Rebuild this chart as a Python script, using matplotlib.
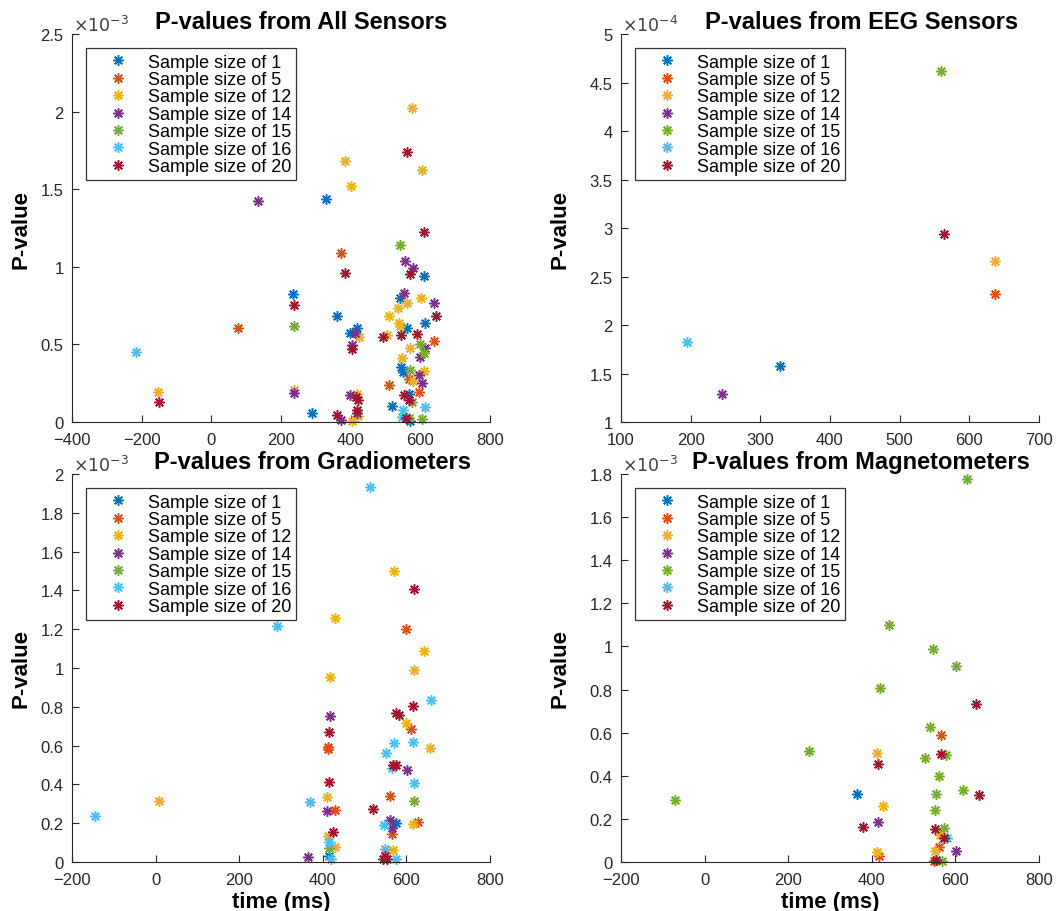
import matplotlib
matplotlib.use('Agg')
import matplotlib.pyplot as plt
from matplotlib.ticker import FuncFormatter

plt.rcParams['font.family'] = ['Liberation Sans', 'DejaVu Sans']

sizes = [1, 5, 12, 14, 15, 16, 20]
colors = ['#0072BD', '#D95319', '#EDB120', '#7E2F8E', '#77AC30', '#4DBEEE', '#A2142F']

# ---- All sensors (p in units of 1e-3) ----
all_t = {
    1: [329, 611, 234, 541, 361, 614, 562, 419, 398, 545, 551, 567, 519, 290, 570],
    5: [76, 373, 638, 567, 510, 596],
    12: [-154, 576, 383, 605, 400, 602, 562, 536, 510, 538, 542, 425, 505, 570, 547, 611, 578, 237, 417, 422, 403],
    14: [133, 557, 580, 553, 639, 413, 405, 613, 599, 595, 604, 237, 398, 419, 373],
    15: [541, 237, 598, 610, 570, 575, 606, 568],
    16: [-216, 613, 551, 547],
    20: [-149, 562, 610, 383, 570, 237, 645, 493, 545, 590, 405, 414, 422, 552, 568, 419, 360, 558],
}
all_p = {
    1: [1.435, 0.942, 0.824, 0.802, 0.684, 0.637, 0.603, 0.603, 0.571, 0.356, 0.320, 0.180, 0.105, 0.058, 0.008],
    5: [0.605, 1.092, 0.519, 0.277, 0.238, 0.191],
    12: [0.195, 2.025, 1.680, 1.624, 1.521, 0.802, 0.764, 0.734, 0.684, 0.635, 0.620, 0.549, 0.560, 0.474, 0.410, 0.330, 0.266, 0.206, 0.180, 0.041, 0.008],
    14: [1.422, 1.038, 0.991, 0.828, 0.764, 0.571, 0.497, 0.474, 0.420, 0.304, 0.249, 0.185, 0.176, 0.056, 0.015],
    15: [1.141, 0.616, 0.502, 0.442, 0.335, 0.127, 0.019, 0.024],
    16: [0.449, 0.095, 0.077, 0.030],
    20: [0.131, 1.742, 1.227, 0.963, 0.952, 0.755, 0.684, 0.549, 0.560, 0.566, 0.470, 0.159, 0.144, 0.174, 0.142, 0.077, 0.047, 0.026],
}

# ---- EEG sensors (p in units of 1e-4) ----
eeg_t = {1: [328], 5: [637], 12: [637], 14: [245], 15: [559], 16: [195], 20: [564]}
eeg_p = {1: [1.58], 5: [2.32], 12: [2.66], 14: [1.29], 15: [4.62], 16: [1.82], 20: [2.94]}

# ---- Gradiometers (p in units of 1e-3) ----
grad_t = {
    1: [575, 416],
    5: [600, 612, 413, 412, 560, 428, 565, 627],
    12: [8, 571, 428, 643, 618, 417, 599, 656, 411, 615, 413, 428, 567],
    14: [417, 601, 411, 561, 566, 364],
    15: [619, 414],
    16: [-146, 290, 513, 659, 570, 616, 552, 565, 619, 370, 546, 414, 420, 549, 575],
    20: [619, 616, 576, 582, 416, 568, 574, 414, 521, 425, 549, 554, 545],
}
grad_p = {
    1: [0.199, 0.031],
    5: [1.199, 0.688, 0.594, 0.580, 0.340, 0.269, 0.142, 0.208],
    12: [0.315, 1.500, 1.256, 1.088, 0.992, 0.953, 0.715, 0.589, 0.335, 0.196, 0.132, 0.078, 0.061],
    14: [0.753, 0.476, 0.262, 0.218, 0.174, 0.028],
    15: [0.317, 0.070],
    16: [0.236, 1.214, 1.931, 0.836, 0.611, 0.620, 0.563, 0.482, 0.407, 0.308, 0.192, 0.104, 0.018, 0.066, 0.018],
    20: [1.405, 0.802, 0.767, 0.760, 0.672, 0.502, 0.500, 0.412, 0.274, 0.156, 0.031, 0.014, 0.014],
}

# ---- Magnetometers (p in units of 1e-3) ----
mag_t = {
    1: [365],
    5: [566, 560, 417, 549],
    12: [412, 426, 564, 412, 550],
    14: [415, 602],
    15: [-71, 250, 628, 441, 547, 602, 419, 540, 578, 527, 560, 554, 617, 551, 572, 567],
    16: [580],
    20: [649, 566, 415, 657, 379, 551, 572, 553],
}
mag_p = {
    1: [0.315],
    5: [0.589, 0.070, 0.028, 0.005],
    12: [0.504, 0.260, 0.124, 0.047, 0.051],
    14: [0.186, 0.051],
    15: [0.288, 0.516, 1.775, 1.098, 0.989, 0.909, 0.809, 0.625, 0.498, 0.482, 0.400, 0.315, 0.333, 0.242, 0.160, 0.005],
    16: [0.113],
    20: [0.732, 0.501, 0.454, 0.313, 0.163, 0.152, 0.110, 0.009],
}

panels = [
    ('P-values from All Sensors', all_t, all_p, (-400, 800, 200), (0, 2.5, 0.5), -3, False),
    ('P-values from EEG Sensors', eeg_t, eeg_p, (100, 700, 100), (1, 5, 0.5), -4, False),
    ('P-values from Gradiometers', grad_t, grad_p, (-200, 800, 200), (0, 2, 0.2), -3, True),
    ('P-values from Magnetometers', mag_t, mag_p, (-200, 800, 200), (0, 1.8, 0.2), -3, True),
]
title_x = [0.548, 0.575, 0.575, 0.575]
ylab_x = [-0.096, -0.12, -0.096, -0.12]

fig = plt.figure(figsize=(10.62, 9.12), dpi=100)
W = 418 / 1062.
H = 388 / 912.
lefts = [72 / 1062., 621 / 1062.]
bottoms = [1 - 423 / 912., 1 - 863 / 912.]

star = (8, 2, 0)
grey = '#262626'

for i, (title, T, P, xr, yr, ex, showx) in enumerate(panels):
    ax = fig.add_axes([lefts[i % 2], bottoms[i // 2], W, H])
    for s, c in zip(sizes, colors):
        ax.plot(T[s], P[s], linestyle='none', marker=star, ms=7.5, mew=1.1,
                color=c, label='Sample size of %d' % s, clip_on=False)
    ax.set_xlim(xr[0], xr[1])
    ax.set_ylim(yr[0], yr[1])
    xt = []
    v = xr[0]
    while v <= xr[1] + 1e-9:
        xt.append(v)
        v += xr[2]
    yt = []
    v = yr[0]
    while v <= yr[1] + 1e-9:
        yt.append(round(v, 3))
        v += yr[2]
    ax.set_xticks(xt)
    ax.set_yticks(yt)
    ax.yaxis.set_major_formatter(FuncFormatter(lambda v, pos: '%g' % v))
    ax.tick_params(direction='in', length=5, width=0.8, labelsize=12, colors=grey)
    ax.tick_params(axis='x', pad=7)
    ax.tick_params(axis='y', pad=6)
    for sp in ['top', 'right']:
        ax.spines[sp].set_visible(False)
    for sp in ['left', 'bottom']:
        ax.spines[sp].set_color(grey)
    ax.text(title_x[i], 1 + 6 / 388., title, transform=ax.transAxes,
            fontsize=17, fontweight='bold', ha='center', va='baseline')
    ax.text(0.003, 1 + 3 / 388., r'$\times10^{%d}$' % ex, transform=ax.transAxes,
            fontsize=12.5, color='#404040', ha='left', va='baseline')
    ax.set_ylabel('P-value', fontsize=16, fontweight='bold')
    ax.yaxis.set_label_coords(ylab_x[i], 0.5)
    if showx:
        ax.set_xlabel('time (ms)', fontsize=16, fontweight='bold', labelpad=3)
    leg = ax.legend(loc='upper left', bbox_to_anchor=(0.034, 0.963), borderaxespad=0,
                    fontsize=13, labelspacing=0.02, handletextpad=0.2, handlelength=2.9,
                    borderpad=0.3, fancybox=False, frameon=True)
    leg.get_frame().set_edgecolor('black')
    leg.get_frame().set_linewidth(0.9)

fig.savefig('out.png', dpi=100)
